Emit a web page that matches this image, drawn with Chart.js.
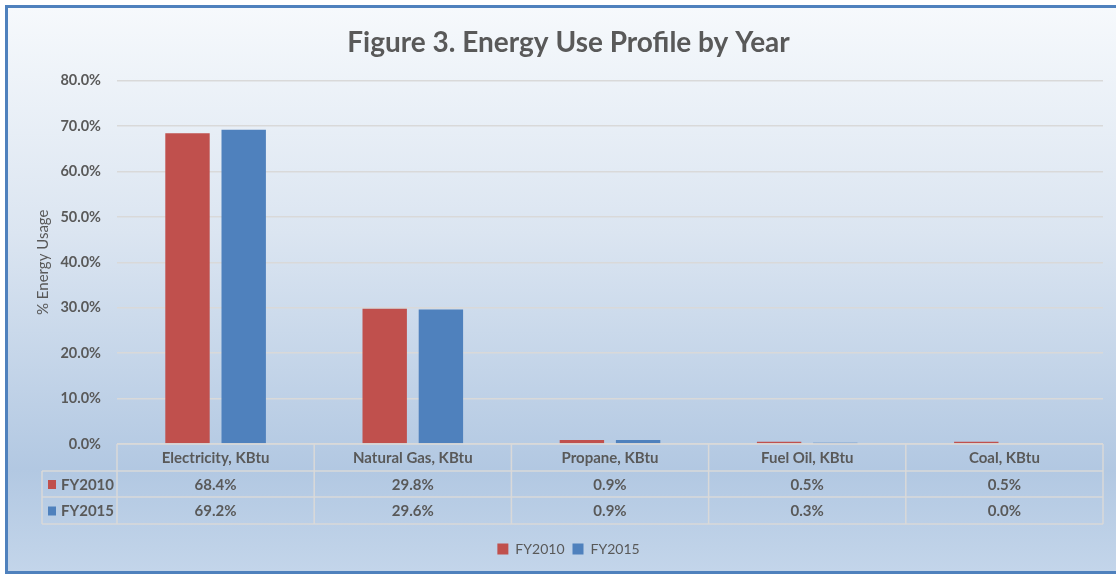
<!DOCTYPE html>
<html>
<head>
<meta charset="utf-8">
<script src="https://cdn.jsdelivr.net/npm/chart.js@4.4.1/dist/chart.umd.min.js"></script>
<style>
    html, body { margin: 0; padding: 0; overflow: hidden; width: 1116px; height: 574px; background: #ffffff; }
    #frame {
        position: absolute; left: 5px; top: 5px; width: 1200px; height: 569px;
        box-sizing: border-box; border: 3px solid #4f81bd;
        background: linear-gradient(to bottom, #f6f9fc 0%, #dbe5f1 40%, #b2c8e2 82%, #c3d5ea 100%);
    }
    #wrap { position: absolute; left: 0; top: 0; width: 1116px; height: 574px; }
</style>
</head>
<body>
<div id="frame"></div>
<div id="wrap"><canvas id="energyChart"></canvas></div>
<script>
const categories = ['Electricity, KBtu', 'Natural Gas, KBtu', 'Propane, KBtu', 'Fuel Oil, KBtu', 'Coal, KBtu'];
const seriesNames = ['FY2010', 'FY2015'];
const fy2010 = [68.4, 29.8, 0.9, 0.5, 0.5];
const fy2015 = [69.2, 29.6, 0.9, 0.3, 0.0];
const yMax = 80;
const yStep = 10;

const textColor = '#595959';
const lineColor = '#d9d9d9';
const colors = ['#c0504d', '#4f81bd'];
const fontFamily = 'Lato, "Open Sans", sans-serif';

// draws the data table under the plot, lined up with the x scale
const dataTable = {
    id: 'dataTable',
    afterDraw(chart) {
        const ctx = chart.ctx;
        const x = chart.scales.x;
        const area = chart.chartArea;
        const colW = (area.right - area.left) / categories.length;
        const top = area.bottom;
        const rowH = [27, 26, 27];
        const y1 = top + rowH[0];
        const y2 = y1 + rowH[1];
        const y3 = y2 + rowH[2];
        const labelLeft = 42;

        ctx.save();
        ctx.strokeStyle = lineColor;
        ctx.lineWidth = 1.5;
        ctx.beginPath();
        // horizontal lines
        ctx.moveTo(area.left, top); ctx.lineTo(area.right, top);
        ctx.moveTo(labelLeft, y1); ctx.lineTo(area.right, y1);
        ctx.moveTo(labelLeft, y2); ctx.lineTo(area.right, y2);
        ctx.moveTo(labelLeft, y3); ctx.lineTo(area.right, y3);
        // vertical lines
        ctx.moveTo(labelLeft, y1); ctx.lineTo(labelLeft, y3);
        for (let i = 0; i <= categories.length; i++) {
            const px = area.left + colW * i;
            ctx.moveTo(px, top); ctx.lineTo(px, y3);
        }
        ctx.stroke();

        ctx.fillStyle = textColor;
        ctx.font = 'bold 15px ' + fontFamily;
        ctx.textAlign = 'center';
        ctx.textBaseline = 'middle';
        const rows = [fy2010, fy2015];
        categories.forEach((cat, i) => {
            const cx = x.getPixelForValue(i);
            ctx.fillText(cat, cx, top + rowH[0] / 2 + 1);
            ctx.fillText(rows[0][i].toFixed(1) + '%', cx, y1 + rowH[1] / 2 + 1);
            ctx.fillText(rows[1][i].toFixed(1) + '%', cx, y2 + rowH[2] / 2 + 1);
        });

        ctx.textAlign = 'left';
        [y1, y2].forEach((ry, r) => {
            const h = rowH[r + 1];
            ctx.fillStyle = colors[r];
            ctx.fillRect(48, ry + h / 2 - 4, 8, 9);
            ctx.fillStyle = textColor;
            ctx.fillText(seriesNames[r], 61, ry + h / 2 + 1);
        });
        ctx.restore();
    }
};

const ctx = document.getElementById('energyChart').getContext('2d');
const energyChart = new Chart(ctx, {
    type: 'bar',
    data: {
        labels: categories,
        datasets: [{
            label: seriesNames[0],
            data: fy2010,
            backgroundColor: colors[0],
            borderWidth: 0
        }, {
            label: seriesNames[1],
            data: fy2015,
            backgroundColor: colors[1],
            borderWidth: 0
        }]
    },
    options: {
        responsive: true,
        maintainAspectRatio: false,
        animation: false,
        layout: {
            padding: { left: 34, right: 13, top: 0, bottom: 8 }
        },
        datasets: {
            bar: { categoryPercentage: 0.57, barPercentage: 0.79 }
        },
        plugins: {
            title: {
                display: true,
                text: 'Figure 3. Energy Use Profile by Year',
                color: textColor,
                font: { family: fontFamily, size: 28, weight: 'bold' },
                padding: { top: 26, bottom: 21 }
            },
            legend: {
                position: 'bottom',
                labels: {
                    color: textColor,
                    font: { family: fontFamily, size: 14 },
                    boxWidth: 11,
                    boxHeight: 11,
                    padding: 8
                }
            },
            tooltip: { enabled: false }
        },
        scales: {
            x: {
                grid: { display: false },
                border: { display: false },
                ticks: { display: false },
                afterFit(scale) { scale.height = 90; }
            },
            y: {
                min: 0,
                max: yMax,
                ticks: {
                    stepSize: yStep,
                    padding: 16,
                    color: textColor,
                    font: { family: fontFamily, size: 14.5, weight: 'bold' },
                    callback: v => v.toFixed(1) + '%'
                },
                grid: { color: lineColor, lineWidth: 1.5, drawTicks: false },
                border: { display: false },
                title: {
                    display: true,
                    text: '% Energy Usage',
                    color: textColor,
                    font: { family: fontFamily, size: 15 },
                    padding: 0
                },
                afterFit(scale) { scale.width = 83; }
            }
        }
    },
    plugins: [dataTable]
});
</script>
</body>
</html>
